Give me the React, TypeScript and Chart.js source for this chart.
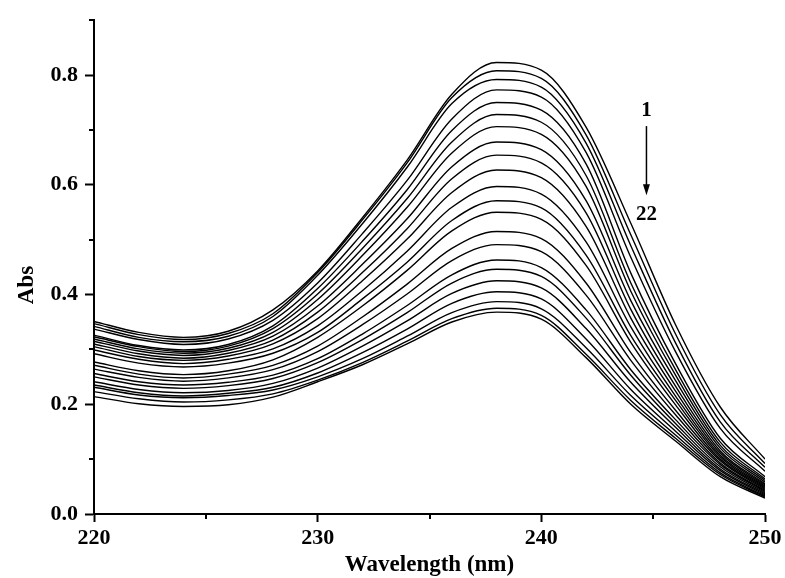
import { useEffect, useRef } from "react";
import { Chart, registerables } from "chart.js";

Chart.register(...registerables);

// Wavelength grid (nm) shared by every spectrum
const wavelengths = [220, 222, 224, 226, 228, 230, 232, 234, 236, 238, 240, 242, 244, 246, 248, 250];

// Absorbance spectra 1 → 22
const abs01 = [0.351, 0.331, 0.322, 0.333, 0.372, 0.443, 0.540, 0.645, 0.765, 0.823, 0.809, 0.705, 0.530, 0.345, 0.195, 0.100];
const abs02 = [0.347, 0.327, 0.318, 0.329, 0.365, 0.440, 0.536, 0.640, 0.759, 0.808, 0.794, 0.691, 0.509, 0.328, 0.181, 0.092];
const abs03 = [0.342, 0.322, 0.314, 0.324, 0.360, 0.435, 0.529, 0.632, 0.748, 0.792, 0.778, 0.676, 0.489, 0.312, 0.168, 0.085];
const abs04 = [0.337, 0.318, 0.309, 0.319, 0.353, 0.421, 0.511, 0.608, 0.720, 0.773, 0.760, 0.659, 0.468, 0.296, 0.156, 0.078];
const abs05 = [0.326, 0.307, 0.299, 0.309, 0.343, 0.411, 0.497, 0.591, 0.699, 0.750, 0.736, 0.638, 0.439, 0.274, 0.138, 0.068];
const abs06 = [0.323, 0.305, 0.296, 0.306, 0.338, 0.401, 0.484, 0.575, 0.678, 0.728, 0.714, 0.617, 0.421, 0.263, 0.131, 0.064];
const abs07 = [0.319, 0.301, 0.293, 0.302, 0.331, 0.391, 0.471, 0.559, 0.658, 0.706, 0.692, 0.597, 0.406, 0.253, 0.125, 0.061];
const abs08 = [0.315, 0.297, 0.289, 0.298, 0.324, 0.379, 0.455, 0.538, 0.633, 0.678, 0.664, 0.571, 0.389, 0.243, 0.120, 0.058];
const abs09 = [0.310, 0.292, 0.284, 0.293, 0.317, 0.368, 0.440, 0.520, 0.611, 0.654, 0.640, 0.549, 0.373, 0.233, 0.115, 0.055];
const abs10 = [0.305, 0.287, 0.280, 0.288, 0.310, 0.356, 0.425, 0.501, 0.586, 0.627, 0.613, 0.524, 0.357, 0.224, 0.111, 0.053];
const abs11 = [0.299, 0.282, 0.274, 0.282, 0.301, 0.343, 0.407, 0.479, 0.559, 0.597, 0.583, 0.496, 0.341, 0.215, 0.107, 0.051];
const abs12 = [0.292, 0.275, 0.268, 0.275, 0.293, 0.331, 0.392, 0.459, 0.535, 0.571, 0.558, 0.472, 0.325, 0.207, 0.104, 0.049];
const abs13 = [0.277, 0.261, 0.254, 0.261, 0.281, 0.322, 0.379, 0.444, 0.516, 0.550, 0.537, 0.453, 0.313, 0.199, 0.100, 0.047];
const abs14 = [0.271, 0.255, 0.248, 0.255, 0.271, 0.306, 0.359, 0.419, 0.484, 0.515, 0.502, 0.421, 0.294, 0.189, 0.097, 0.045];
const abs15 = [0.264, 0.249, 0.242, 0.248, 0.263, 0.296, 0.345, 0.401, 0.462, 0.491, 0.478, 0.399, 0.280, 0.181, 0.093, 0.043];
const abs16 = [0.256, 0.241, 0.235, 0.240, 0.253, 0.283, 0.328, 0.380, 0.436, 0.463, 0.449, 0.372, 0.263, 0.172, 0.090, 0.041];
const abs17 = [0.250, 0.235, 0.229, 0.234, 0.247, 0.276, 0.318, 0.367, 0.421, 0.446, 0.433, 0.357, 0.253, 0.165, 0.086, 0.039];
const abs18 = [0.241, 0.227, 0.221, 0.225, 0.238, 0.266, 0.306, 0.352, 0.402, 0.425, 0.412, 0.338, 0.240, 0.158, 0.082, 0.037];
const abs19 = [0.235, 0.221, 0.215, 0.220, 0.231, 0.257, 0.294, 0.337, 0.384, 0.405, 0.392, 0.319, 0.227, 0.151, 0.079, 0.035];
const abs20 = [0.231, 0.217, 0.212, 0.216, 0.226, 0.250, 0.283, 0.324, 0.367, 0.387, 0.374, 0.303, 0.216, 0.144, 0.075, 0.033];
const abs21 = [0.223, 0.210, 0.204, 0.208, 0.219, 0.244, 0.276, 0.315, 0.356, 0.375, 0.362, 0.291, 0.207, 0.138, 0.072, 0.031];
const abs22 = [0.214, 0.201, 0.196, 0.199, 0.213, 0.241, 0.272, 0.310, 0.350, 0.368, 0.355, 0.285, 0.200, 0.133, 0.068, 0.029];

const spectra = [
  abs01, abs02, abs03, abs04, abs05, abs06, abs07, abs08, abs09, abs10, abs11,
  abs12, abs13, abs14, abs15, abs16, abs17, abs18, abs19, abs20, abs21, abs22,
];

// Axis ranges and tick marks
const xMin = 220;
const xMax = 250;
const yMin = 0;
const yMax = 0.9;
const xMinorTicks = [225, 235, 245];
const yMinorTicks = [0.1, 0.3, 0.5, 0.7, 0.9];

const xTitle = "Wavelength (nm)";
const yTitle = "Abs";
const firstLabel = "1";
const lastLabel = "22";

const SERIF = '"Liberation Serif", "Times New Roman", serif';

// Minor ticks, axis titles and the 1 → 22 arrow
const decorations = {
  id: "decorations",
  afterDraw(chart: any) {
    const { ctx, chartArea } = chart;
    const x = chart.scales.x;
    const y = chart.scales.y;
    ctx.save();
    ctx.strokeStyle = "#000";
    ctx.fillStyle = "#000";
    ctx.lineWidth = 2;

    yMinorTicks.forEach((v) => {
      const py = Math.round(y.getPixelForValue(v));
      ctx.beginPath();
      ctx.moveTo(chartArea.left - 5, py);
      ctx.lineTo(chartArea.left, py);
      ctx.stroke();
    });
    xMinorTicks.forEach((v) => {
      const px = Math.round(x.getPixelForValue(v));
      ctx.beginPath();
      ctx.moveTo(px, chartArea.bottom);
      ctx.lineTo(px, chartArea.bottom + 5);
      ctx.stroke();
    });

    ctx.font = `bold 23px ${SERIF}`;
    ctx.textAlign = "center";
    ctx.textBaseline = "middle";
    ctx.fillText(xTitle, (chartArea.left + chartArea.right) / 2, 565);

    ctx.save();
    ctx.translate(27, 285);
    ctx.rotate(-Math.PI / 2);
    ctx.fillText(yTitle, 0, 0);
    ctx.restore();

    // arrow showing the order of the spectra
    const ax = x.getPixelForValue(244.7);
    ctx.font = `bold 21px ${SERIF}`;
    ctx.fillText(firstLabel, ax, y.getPixelForValue(0.735));
    ctx.fillText(lastLabel, ax, y.getPixelForValue(0.545));
    const top = y.getPixelForValue(0.707);
    const tip = y.getPixelForValue(0.581);
    ctx.lineWidth = 1.5;
    ctx.beginPath();
    ctx.moveTo(ax, top);
    ctx.lineTo(ax, tip - 8);
    ctx.stroke();
    ctx.beginPath();
    ctx.moveTo(ax, tip);
    ctx.lineTo(ax - 3.5, tip - 11);
    ctx.lineTo(ax + 3.5, tip - 11);
    ctx.closePath();
    ctx.fill();
    ctx.restore();
  },
};

const whiteBackground = {
  id: "whiteBackground",
  beforeDraw(chart: any) {
    const { ctx, width, height } = chart;
    ctx.save();
    ctx.fillStyle = "#fff";
    ctx.fillRect(0, 0, width, height);
    ctx.restore();
  },
};

export default function App() {
  const canvasRef = useRef<HTMLCanvasElement | null>(null);

  useEffect(() => {
    const canvas = canvasRef.current;
    if (!canvas) return;

    const datasets = spectra.map((values, i) => ({
      label: String(i + 1),
      data: wavelengths.map((w, j) => ({ x: w, y: values[j] })),
      borderColor: "#000",
      borderWidth: 1.4,
      pointRadius: 0,
      fill: false,
      cubicInterpolationMode: "monotone" as const,
    }));

    const tickFont = { family: SERIF, size: 22, weight: "bold" as const };

    const chart = new Chart(canvas, {
      type: "line",
      data: { datasets },
      options: {
        animation: false,
        responsive: false,
        devicePixelRatio: 1,
        layout: { padding: { left: 0, top: 14, right: 20, bottom: 0 } },
        plugins: {
          legend: { display: false },
          tooltip: { enabled: false },
        },
        scales: {
          x: {
            type: "linear",
            min: xMin,
            max: xMax,
            border: { display: true, color: "#000", width: 2 },
            grid: {
              drawOnChartArea: false,
              drawTicks: true,
              tickLength: 8,
              tickWidth: 2,
              tickColor: "#000",
            },
            ticks: {
              stepSize: 10,
              color: "#000",
              font: tickFont,
              padding: 3,
              maxRotation: 0,
              includeBounds: false,
            },
            afterFit(scale: any) {
              scale.height = 64;
            },
          },
          y: {
            type: "linear",
            min: yMin,
            max: yMax,
            border: { display: true, color: "#000", width: 2 },
            grid: {
              drawOnChartArea: false,
              drawTicks: true,
              tickLength: 9,
              tickWidth: 2,
              tickColor: "#000",
            },
            ticks: {
              stepSize: 0.2,
              color: "#000",
              font: tickFont,
              padding: 7,
              includeBounds: false,
              callback: (v: any) => Number(v).toFixed(1),
            },
            afterFit(scale: any) {
              scale.width = 94;
            },
          },
        },
      },
      plugins: [whiteBackground, decorations],
    });

    return () => chart.destroy();
  }, []);

  return (
    <div style={{ position: "absolute", left: 0, top: 0, width: 785, height: 578 }}>
      <canvas ref={canvasRef} width={785} height={578} />
    </div>
  );
}
